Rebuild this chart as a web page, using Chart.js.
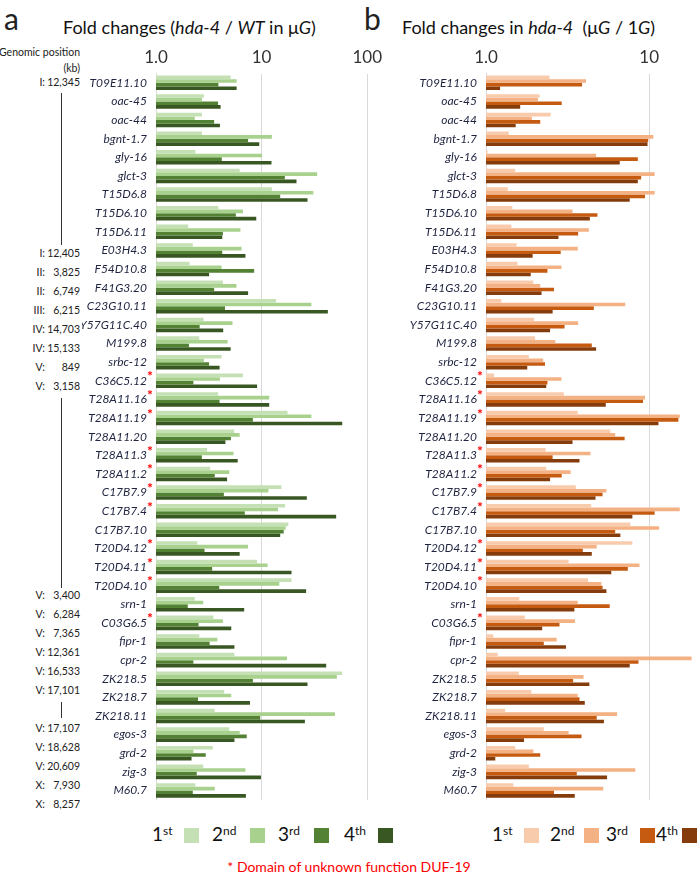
<!DOCTYPE html>
<html>
<head>
<meta charset="utf-8">
<script src="https://cdn.jsdelivr.net/npm/chart.js@4.4.0/dist/chart.umd.min.js"></script>
<style>
body { margin: 0; background: #fff; font-family: Lato, "Open Sans", sans-serif; color: #222; }
#page { position: relative; width: 698px; height: 879px; overflow: hidden; }
.abs { position: absolute; white-space: nowrap; }
.panel { font-size: 30px; line-height: 30px; }
.title { font-size: 18px; line-height: 22px; color: #111; }
.gen { font-size: 10.5px; line-height: 13px; color: #222; }
.leg { font-size: 19px; line-height: 20px; color: #111; }
.leg sup { font-size: 12px; vertical-align: 6px; line-height: 0; }
.box { position: absolute; width: 15px; height: 15px; }
.vline { position: absolute; width: 1px; background: #333; }
</style>
</head>
<body>
<div id="page">
  <div class="abs panel" style="left:4px;top:3px;">a</div>
  <div class="abs panel" style="left:364px;top:3px;">b</div>
  <div class="abs title" style="left:63px;top:16px;">Fold changes (<i>hda-4</i> / <i>WT</i> in &mu;<i>G</i>)</div>
  <div class="abs title" style="left:402px;top:16px;">Fold changes in <i>hda-4</i>&nbsp; (&mu;<i>G</i> / 1<i>G</i>)</div>
  <div class="abs gen" style="right:618px;top:44px;text-align:right;line-height:16px;">Genomic position<br>(kb)</div>
  <div id="genomic"></div>

  <div class="abs" style="left:82px;top:40px;width:306px;height:776px;"><canvas id="leftChart"></canvas></div>
  <div class="abs" style="left:388px;top:40px;width:310px;height:776px;"><canvas id="rightChart"></canvas></div>

  <div id="legends"></div>
  <div class="abs" style="left:0;width:698px;top:858px;text-align:center;font-size:14px;color:#ff0000;">* Domain of unknown function DUF-19</div>
</div>

<script>
// genes, top to bottom
const genes = ['T09E11.10','oac-45','oac-44','bgnt-1.7','gly-16','glct-3','T15D6.8','T15D6.10','T15D6.11','E03H4.3',
  'F54D10.8','F41G3.20','C23G10.11','Y57G11C.40','M199.8','srbc-12','C36C5.12','T28A11.16','T28A11.19','T28A11.20',
  'T28A11.3','T28A11.2','C17B7.9','C17B7.4','C17B7.10','T20D4.12','T20D4.11','T20D4.10','srn-1','C03G6.5',
  'fipr-1','cpr-2','ZK218.5','ZK218.7','ZK218.11','egos-3','grd-2','zig-3','M60.7'];

// genes with DUF-19 (red asterisk)
const starred = ['C36C5.12','T28A11.16','T28A11.19','T28A11.3','T28A11.2','C17B7.9','C17B7.4','T20D4.12','T20D4.11','T20D4.10','C03G6.5'];

// panel a: hda-4 / WT in muG, rounds 1-4
const wt1 = [5.1,2.84,2.72,2.72,2.36,6.2,12.5,3.9,2.02,2.23, 2.08,4.3,13.7,2.82,2.57,4.18,6.65,3.87,17.6,5.5, 3.04,3.26,15.4,16.7,17.9,2.46,9.06,19.2,2.33,3.5, 2.57,5.53,58,4.42,3.6,4.94,3.45,2.8,2.36];
const wt2 = [5.8,2.72,2.33,12.5,10.1,33.6,30.9,6.65,6.3,6.46, 4.18,5.78,29.6,5.3,4.77,2.84,4.03,11.8,29.6,6.2, 5.42,4.94,11.6,14.3,16.9,7.45,11.4,14.7,2.8,4.3, 3.81,17.4,51.6,5.16,49.5,6.2,2.26,7.03,3.6];
const wt3 = [3.9,3.87,3.55,7.45,4.2,16.6,15.0,5.7,4.3,4.24, 8.5,3.55,4.5,2.59,2.05,3.18,2.26,4.0,8.27,5.12, 2.72,3.6,4.39,6.93,16.2,2.88,3.4,3.97,2.0,2.53, 3.22,2.26,8.27,2.5,9.7,7.23,2.96,2.43,2.23];
const wt4 = [5.8,4.09,4.03,9.5,12.4,21.4,27.2,8.9,4.24,7.03, 3.18,7.45,42.4,4.33,5.09,4.0,9.06,11.8,58,4.54, 5.94,4.71,26.8,50.8,15.0,6.2,19.2,26.4,6.84,5.16, 5.53,40.9,27.2,7.76,25.7,5.53,2.17,9.86,7.1];

// panel b: hda-4 muG / 1G, rounds 1-4
const mg1 = [2.45,2.13,2.49,1.38,1.02,1.51,1.36,1.45,1.43,1.54, 1.56,1.95,1.24,1.97,2.0,1.83,1.12,3.0,3.65,5.78, 2.32,2.34,3.55,4.41,7.67,7.89,3.21,4.22,1.6,1.73, 1.11,1.18,1.59,1.9,1.31,2.26,1.51,1.83,1.47];
const mg2 = [4.1,2.08,1.91,10.6,4.73,10.8,10.8,3.39,4.27,3.65, 2.9,2.15,7.13,3.67,2.66,2.24,2.9,9.43,15.4,6.19, 4.37,3.3,5.47,15.4,11.5,4.77,8.72,5.09,3.65,3.51, 2.71,18.2,3.96,3.65,6.36,3.21,1.95,8.22,5.23];
const mg3 = [3.88,2.91,2.15,9.86,8.52,8.93,9.43,4.82,3.67,2.87, 2.38,2.61,4.58,3.03,4.45,2.3,2.38,9.17,15.1,7.07, 2.56,2.91,5.18,10.8,6.19,3.92,7.4,5.18,5.73,2.82, 2.26,8.6,3.42,3.74,4.77,3.85,2.15,3.6,2.61];
const mg4 = [1.22,1.62,1.52,9.77,6.6,8.52,7.6,4.33,2.78,1.93, 1.88,2.19,2.56,2.47,4.73,1.79,2.34,5.42,11.4,3.39, 3.74,2.47,4.69,7.89,6.66,4.45,5.86,5.47,3.48,2.21, 3.09,7.6,4.3,4.03,5.28,1.71,1.14,5.52,3.5];

const roundNames = ['1st','2nd','3rd','4th'];
const greens = ['#c5e0b4','#a9d18e','#548235','#385723'];
const oranges = ['#f8cbad','#f4b183','#c55a11','#843c0c'];

const ticksLeft = [1, 10, 100];
const ticksRight = [1, 10];

// genomic position column
const genRow = [0,9,10,11,12,13,14,15,16,27,28,29,30,31,32,34,35,36,37,38];
const genChr = ['I:','I:','II:','II:','III:','IV:','IV:','V:','V:','V:','V:','V:','V:','V:','V:','V:','V:','V:','X:','X:'];
const genKb  = ['12,345','12,405','3,825','6,749','6,215','14,703','15,133','849','3,158','3,400','6,284','7,365','12,361','16,533','17,101','17,107','18,628','20,609','7,930','8,257'];

const rowY = i => 83 + 19 * i;

const gen = document.getElementById('genomic');
genRow.forEach((r, k) => {
  const a = document.createElement('div');
  a.className = 'abs gen';
  a.style.right = (698 - 45) + 'px';
  a.style.top = (rowY(r) - 7) + 'px';
  a.textContent = genChr[k];
  gen.appendChild(a);
  const b = document.createElement('div');
  b.className = 'abs gen';
  b.style.right = (698 - 80) + 'px';
  b.style.top = (rowY(r) - 7) + 'px';
  b.textContent = genKb[k];
  gen.appendChild(b);
});
[[rowY(0) + 10, rowY(8) + 10], [rowY(16) + 11, rowY(26) + 11], [rowY(32) + 11, rowY(34) - 11]].forEach(([y0, y1]) => {
  const l = document.createElement('div');
  l.className = 'vline';
  l.style.left = '61px';
  l.style.top = y0 + 'px';
  l.style.height = (y1 - y0) + 'px';
  gen.appendChild(l);
});

// legends
function legend(textX, boxX, colors) {
  const host = document.getElementById('legends');
  roundNames.forEach((n, i) => {
    const t = document.createElement('div');
    t.className = 'abs leg';
    t.style.left = textX[i] + 'px';
    t.style.top = '824px';
    t.innerHTML = n[0] + '<sup>' + n.slice(1) + '</sup>';
    host.appendChild(t);
    const b = document.createElement('div');
    b.className = 'box';
    b.style.left = boxX[i] + 'px';
    b.style.top = '828px';
    b.style.background = colors[i];
    host.appendChild(b);
  });
}
legend([152, 212, 278, 344], [184, 250, 314, 378], greens);
legend([492, 550, 606, 656], [524, 584, 640, 682], oranges);

const starPlugin = {
  id: 'stars',
  afterDraw(chart) {
    const ctx = chart.ctx, y = chart.scales.y;
    ctx.save();
    ctx.fillStyle = '#ff0000';
    ctx.font = 'bold 14px Lato';
    ctx.textAlign = 'left';
    ctx.textBaseline = 'middle';
    genes.forEach((g, i) => {
      if (starred.includes(g)) ctx.fillText('*', chart.chartArea.left - 9, y.getPixelForValue(i) - 4);
    });
    ctx.restore();
  }
};

function makeChart(id, series, colors, max, shown, yWidth, padRight) {
  return new Chart(document.getElementById(id), {
    type: 'bar',
    data: {
      labels: genes,
      datasets: series.map((d, i) => ({
        label: roundNames[i],
        data: d,
        backgroundColor: colors[i],
        borderWidth: 0,
        categoryPercentage: 0.78,
        barPercentage: 1.0
      }))
    },
    options: {
      indexAxis: 'y',
      responsive: true,
      maintainAspectRatio: false,
      animation: false,
      layout: { padding: { top: 0, right: padRight, bottom: 1.5, left: 0 } },
      plugins: { legend: { display: false }, tooltip: { enabled: false } },
      scales: {
        x: {
          type: 'logarithmic',
          position: 'top',
          min: 1,
          max: max,
          afterFit: s => { s.height = 33.5; },
          border: { display: false },
          grid: {
            drawTicks: false,
            color: c => (c.tick && c.tick.value !== 1 && shown.includes(c.tick.value)) ? '#d9d9d9' : 'rgba(0,0,0,0)'
          },
          ticks: {
            autoSkip: false,
            maxRotation: 0,
            padding: 6,
            color: '#333',
            font: { family: 'Lato', size: 17 },
            callback: v => v === 1 ? '1.0' : (shown.includes(v) ? String(v) : '')
          }
        },
        y: {
          afterFit: s => { s.width = yWidth; },
          grid: { display: false, drawTicks: false },
          border: { color: '#d9d9d9' },
          ticks: {
            autoSkip: false,
            padding: 9,
            color: '#1f2440',
            font: { family: 'Lato', size: 12, style: 'italic' }
          }
        }
      }
    },
    plugins: [starPlugin]
  });
}

makeChart('leftChart', [wt1, wt2, wt3, wt4], greens, 100, ticksLeft, 74, 14);
makeChart('rightChart', [mg1, mg2, mg3, mg4], oranges, 18.3, ticksRight, 98, 0);
</script>
</body>
</html>
